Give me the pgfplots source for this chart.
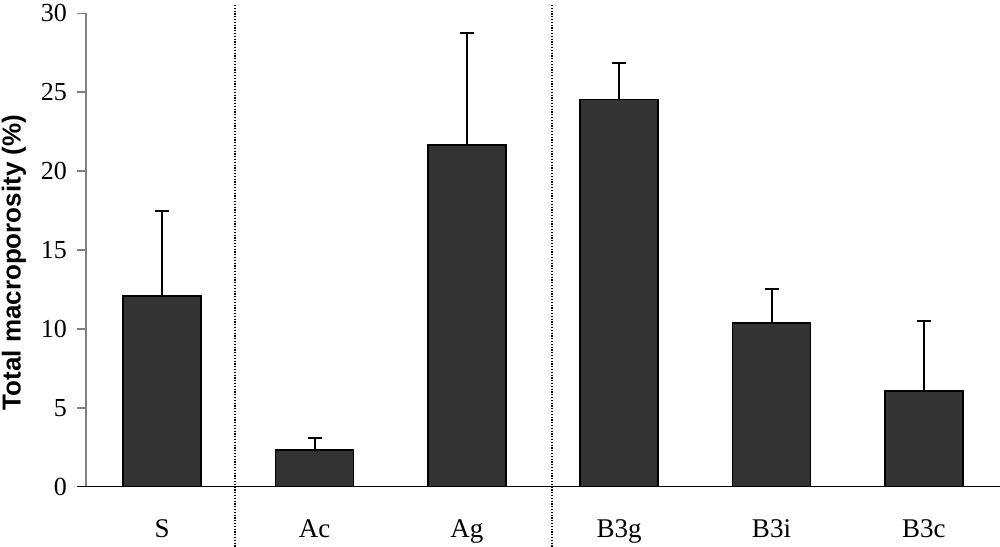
\documentclass[border=0pt]{standalone}
\usepackage{fontspec}
\setmainfont{Liberation Serif}
\newfontfamily\labelfont{Liberation Sans}
\usepackage{pgfplots}
\pgfplotsset{compat=1.18}
\definecolor{barfill}{HTML}{333333}
\definecolor{axgray}{HTML}{808080}
\begin{document}
\begin{tikzpicture}
\begin{axis}[
  name=ax,
  scale only axis,
  width=457pt, height=236.7pt,
  xmin=-0.5, xmax=5.5, ymin=0, ymax=30,
  ytick={0,5,...,30},
  xtick={0,1,2,3,4,5},
  xticklabels={S,Ac,Ag,B3g,B3i,B3c},
  axis lines*=left,
  x axis line style={draw=none},
  y axis line style={draw=axgray, line width=0.75pt},
  ytick style={draw=axgray, line width=0.75pt},
  xtick style={draw=none},
  tick align=outside,
  major tick length=4.5pt,
  /pgf/number format/assume math mode=true,
  yticklabel style={font=\fontsize{13}{15}\selectfont, xshift=-1.5pt},
  xticklabel style={font=\fontsize{13.5}{16}\selectfont, anchor=base, yshift=-21pt},
  ylabel={Total macroporosity (\%)},
  ylabel style={font=\labelfont\bfseries\fontsize{13}{15}\selectfont, at={(axis description cs:-0.0788,0.4736)}, anchor=center},
  clip=false,
  ybar, bar width=39pt,
]
\addplot[fill=barfill, draw=black, line width=0.75pt,
  error bars/.cd, y dir=plus, y explicit,
  error bar style={line width=1pt, black},
  error mark options={rotate=90, mark size=3.5pt, line width=1pt, black}]
  table[x=x, y=y, y error=e] {
x y e
0 12.08 5.39
1 2.33 0.77
2 21.65 7.08
3 24.55 2.28
4 10.37 2.16
5 6.06 4.44
};
\draw[black, line width=0.8pt, dash pattern=on 0.6pt off 0.8pt] (axis cs:0.48,30.53) -- (axis cs:0.48,-3.82);
\draw[black, line width=0.8pt, dash pattern=on 0.6pt off 0.8pt] (axis cs:2.56,30.53) -- (axis cs:2.56,-3.82);
\end{axis}
\draw[black, line width=0.75pt] ([xshift=-4.5pt]ax.south west) -- (ax.south east);
\pgfresetboundingbox
\path[use as bounding box] ([shift={(-43pt,-30.15pt)}]ax.south west) rectangle ([shift={(0pt,6.65pt)}]ax.north east);
\end{tikzpicture}
\end{document}
